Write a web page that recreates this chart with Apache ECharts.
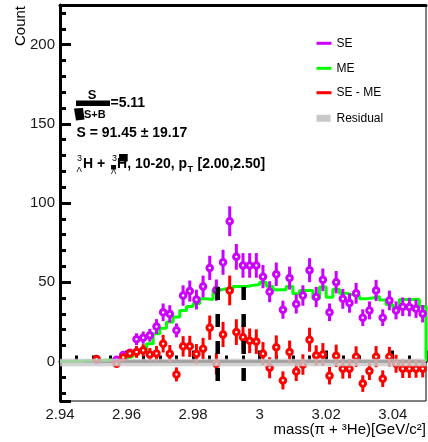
<!DOCTYPE html>
<html><head><meta charset="utf-8">
<script src="https://cdn.jsdelivr.net/npm/echarts@6/dist/echarts.min.js"></script>
<style>html,body{margin:0;padding:0;background:#fff}#c{width:428px;height:442px}</style>
</head><body><div id="c"></div>
<script>
// ---- data ----
const binCenters = [2.941,2.943,2.945,2.947,2.949,2.951,2.953,2.955,2.957,2.959,
  2.961,2.963,2.965,2.967,2.969,2.971,2.973,2.975,2.977,2.979,
  2.981,2.983,2.985,2.987,2.989,2.991,2.993,2.995,2.997,2.999,
  3.001,3.003,3.005,3.007,3.009,3.011,3.013,3.015,3.017,3.019,
  3.021,3.023,3.025,3.027,3.029,3.031,3.033,3.035,3.037,3.039,
  3.041,3.043,3.045,3.047,3.049];
const binHalfWidth = 0.001;
const seValues = [null,null,null,null,null, 1,null,null,1,4,
  5.5,14,15,16.5,22, 31,30,19.6,41.6,44.4,
  39,47.3,59,45,62.6, 88.5,66,60.6,60.6,60.6,
  53.5,44,55,32.6,52.6, 36.2,41.6,57.6,40.6,51.5,
  31,50,39.5,36.8,43, 27.6,32.2,44.8,27.6,38.5,
  32.2,34.5,34.3,33.2,30.1];
const meValues = [0,0,0,0.3,0.3, 0.5,0.8,1,1.5,2,
  3.2,5.5,7,11.2,17.5, 21,24.8,28,32.2,34.7,
  36.5,39.5,39,45,45.9, 45.9,47.3,47.3,48,48.6,
  50,47.5,45.2,45.2,47.3, 42.7,44.8,44.8,39.6,46.9,
  40.5,45.5,43,42,41.5, 39.5,40,41,38.7,36,
  34,39,39,39,34.7];
const diffValues = [null,null,null,null,null, 1.5,null,null,-1.5,2.5,
  5,6,7,4.4,5, 11.2,4.9,-8.2,9.5,9.5,
  4.7,8,21.3,-1.5,17, 44.8,18.5,15.3,13,12.5,
  4.9,-4,9,-12,5.9, -6.4,-2,13.7,3.8,4.4,
  -9,3.5,-4.6,-4.6,3, -14,-6.1,3,-10.9,3,
  -1.5,-4.6,-4.6,-4.6,-4.6];
const residualValue = -0.7;      // residual band centre
const residualHalfBand = 2.4;    // residual band half height
const windowEdges = [2.9874, 2.9952];
const windowRange = [47, -13];
const legendNames = ['SE', 'ME', 'SE - ME', 'Residual'];
const xRange = [2.94, 3.05];
const yRange = [-25, 225];

// ---- styles ----
const FONT = '"Liberation Sans", Arial, Helvetica, sans-serif';
const C_SE = '#cc00ff', C_ME = '#00ff00', C_DIFF = '#ff0000', C_RES = 'rgba(200,200,200,0.82)';

function errData(vals, errSrc) {
  const out = [];
  vals.forEach((v, i) => {
    if (v == null) return;
    const e = Math.sqrt(Math.max(errSrc[i] || 0, 0)); // Poisson error from counts
    out.push([binCenters[i], v, v - e, v + e]);
  });
  return out;
}
function markerData(vals) {
  const out = [];
  vals.forEach((v, i) => { if (v != null) out.push([binCenters[i], v]); });
  return out;
}
const histLine = [];
meValues.forEach((v, i) => {
  histLine.push([binCenters[i] - binHalfWidth, v]);
  histLine.push([binCenters[i] + binHalfWidth, v]);
});
histLine.push([xRange[1], 0]);

const resData = binCenters.map(c => [c, residualValue - residualHalfBand, residualValue + residualHalfBand]);

function errRender(color) {
  return function (params, api) {
    const p1 = api.coord([api.value(0), api.value(2)]);
    const p2 = api.coord([api.value(0), api.value(3)]);
    return { type: 'line', shape: { x1: p1[0], y1: p1[1], x2: p2[0], y2: p2[1] },
      style: { stroke: color, lineWidth: 3 } };
  };
}

const chart = echarts.init(document.getElementById('c'), null, { renderer: 'canvas' });

// ---- text layout helpers ----
const ctx = document.createElement('canvas').getContext('2d');
function tw(t, size, bold) { ctx.font = (bold ? 'bold ' : '') + size + 'px ' + FONT; return ctx.measureText(t).width; }
function txt(t, x, y, size, bold, align, extra) {
  return Object.assign({ type: 'text', x: x, y: y, silent: true,
    style: { text: t, fill: '#000', font: (bold ? 'bold ' : '') + size + 'px ' + FONT,
      align: align || 'left', verticalAlign: 'middle' } }, extra || {});
}
function box(x, y, w, h) { return { type: 'rect', silent: true, shape: { x: x, y: y, width: w, height: h }, style: { fill: '#000' } }; }

const g = [];
// S / sqrt(S+B) = 5.11 (as rendered)
g.push(txt('S', 92, 95, 13, true, 'center'));
g.push(box(76, 100.5, 34, 5.5));
g.push(txt('=5.11', 110.5, 103, 14, true));
g.push({ type: 'polygon', silent: true, shape: { points: [[74, 108.5], [83, 108], [84.5, 119.5], [76, 120.5]] }, style: { fill: '#000' } });
g.push(txt('S+B', 84, 114.5, 11, true));
g.push(txt('S = 91.45 \u00b1 19.17', 76.5, 133, 14, true));
// formula line
let x = 77;
g.push(txt('3', x, 158.5, 9, false));
g.push(txt('\u039b', x - 0.5, 169.5, 8, false));
x += 6;
g.push(txt('H + ', x, 164, 14, true));
x += tw('H + ', 14, true);
g.push(box(x + 2, 165, 5, 4.5));
g.push(txt('3', x + 3, 158.5, 9, false));
g.push(txt('\u039b', x + 2, 172, 8, false));
x += 8;
const hw = tw('H', 14, true);
g.push(txt('H', x, 164, 14, true));
g.push(box(x + 2, 154, hw - 1.5, 7.5));
x += hw;
g.push(txt(', 10-20, p', x, 164, 14, true));
x += tw(', 10-20, p', 14, true);
g.push(txt('T', x + 0.5, 170, 9, true));
x += tw('T', 9, true) + 1;
g.push(txt(' [2.00,2.50]', x, 164, 14, true));
// legend
const legColors = [C_SE, C_ME, C_DIFF];
[43.3, 68.3, 92.7, 118.3].forEach((yy, i) => {
  if (i < 3) g.push({ type: 'line', silent: true, shape: { x1: 316.5, y1: yy, x2: 331.5, y2: yy }, style: { stroke: legColors[i], lineWidth: 3 } });
  else g.push({ type: 'rect', silent: true, shape: { x: 316.5, y: yy - 3.5, width: 14, height: 7 }, style: { fill: '#c8c8c8' } });
  g.push(txt(legendNames[i], 336.5, yy, 12, false));
});
// axis titles
g.push(txt('Count', 21, 6, 15, false, 'right', { rotation: Math.PI / 2 }));
g.push(txt('mass(\u03c0 + \u00b3He)[GeV/c\u00b2]', 426, 430, 15, false, 'right'));

const axisCommon = {
  axisLine: { show: true, lineStyle: { color: '#000', width: 3 } },
  axisTick: { show: true, inside: true, length: 11, lineStyle: { color: '#000', width: 3 } },
  minorTick: { show: true, length: 6, lineStyle: { color: '#000', width: 3 } },
  splitLine: { show: false },
  axisLabel: { color: '#1a1a1a', fontSize: 15, fontFamily: FONT, showMinLabel: false, showMaxLabel: false }
};

chart.setOption({
  animation: false,
  backgroundColor: '#fff',
  grid: { left: 60, right: 2, top: 5, bottom: 41, show: true, borderColor: '#000', borderWidth: 1 },
  xAxis: [
    echarts.util.merge({ type: 'value', min: xRange[0], max: xRange[1],
      minorTick: { splitNumber: 4 },
      axisLabel: { margin: 6, showMinLabel: true } }, axisCommon, false),
    { type: 'value', position: 'top', min: xRange[0], max: xRange[1], axisLine: { show: true, lineStyle: { color: '#000', width: 3 } },
      axisTick: { show: false }, axisLabel: { show: false }, splitLine: { show: false } }
  ],
  yAxis: echarts.util.merge({ type: 'value', min: yRange[0], max: yRange[1],
    minorTick: { splitNumber: 5 },
    axisLabel: { margin: 5, formatter: v => (v % 50 === 0 ? String(v) : '') } }, axisCommon, false),
  series: [
    { name: 'ME', type: 'line', data: histLine, symbol: 'none', z: 2,
      lineStyle: { color: C_ME, width: 3 }, clip: true },
    { name: 'SE err', type: 'custom', renderItem: errRender(C_SE), data: errData(seValues, seValues),
      encode: { x: 0, y: [2, 3] }, z: 3, clip: true },
    { name: 'SE', type: 'scatter', data: markerData(seValues), symbol: 'circle', symbolSize: 5.5, z: 4,
      itemStyle: { color: '#fff', borderColor: C_SE, borderWidth: 3, opacity: 1 } },
    { name: 'SE - ME err', type: 'custom', renderItem: errRender(C_DIFF), data: errData(diffValues, seValues),
      encode: { x: 0, y: [2, 3] }, z: 5, clip: true },
    { name: 'SE - ME', type: 'scatter', data: markerData(diffValues), symbol: 'circle', symbolSize: 5.5, z: 6,
      itemStyle: { color: '#fff', borderColor: C_DIFF, borderWidth: 3, opacity: 1 } },
    { name: 'Residual', type: 'custom', data: resData, encode: { x: 0, y: [1, 2] }, z: 7, clip: true,
      renderItem: function (params, api) {
        const c = api.value(0);
        const a = api.coord([c - binHalfWidth, api.value(2)]);
        const b = api.coord([c + binHalfWidth, api.value(1)]);
        const x1 = Math.round(a[0]), x2 = Math.round(b[0]);
        return { type: 'rect', shape: { x: x1, y: a[1], width: x2 - x1, height: b[1] - a[1] }, style: { fill: C_RES } };
      } },
    { name: 'window', type: 'custom', data: windowEdges.map(w => [w, windowRange[0], windowRange[1]]),
      encode: { x: 0, y: [1, 2] }, z: 8,
      renderItem: function (params, api) {
        const p1 = api.coord([api.value(0), api.value(1)]);
        const p2 = api.coord([api.value(0), api.value(2)]);
        return { type: 'line', shape: { x1: p1[0], y1: p1[1], x2: p2[0], y2: p2[1] },
          style: { stroke: '#000', lineWidth: 4.5, lineDash: [13, 14] } };
      } }
  ],
  graphic: g
});
</script></body></html>
